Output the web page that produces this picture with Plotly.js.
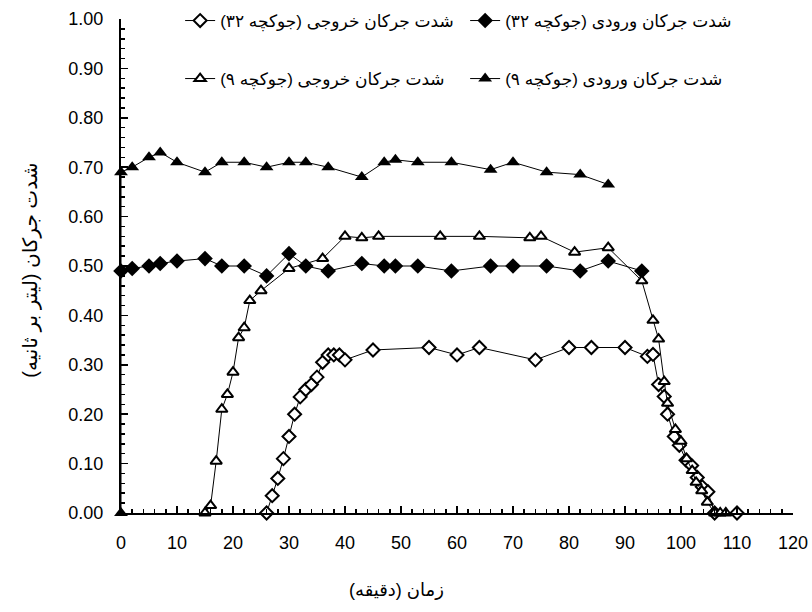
<!DOCTYPE html>
<html><head><meta charset="utf-8">
<script src="https://cdn.plot.ly/plotly-3.0.1.min.js"></script>
<style>html,body{margin:0;padding:0;background:#fff}</style>
</head><body><div id="chart" style="width:812px;height:612px"></div>
<script>
const RLM = '\u200F';
const nameIn32 = RLM + 'شدت جرکان ورودی (جوکچه ۳۲)' + RLM;
const nameOut32 = RLM + 'شدت جرکان خروجی (جوکچه ۳۲)' + RLM;
const nameIn9 = RLM + 'شدت جرکان ورودی (جوکچه ۹)' + RLM;
const nameOut9 = RLM + 'شدت جرکان خروجی (جوکچه ۹)' + RLM;
const xTitle = RLM + 'زمان (دقیقه)' + RLM;
const yTitle = RLM + 'شدت جرکان (لیتر بر ثانیه)' + RLM;

const in9X = [0, 0, 2, 5, 7, 10, 15, 18, 22, 26, 30, 33, 37, 43, 47, 49, 53, 59, 66, 70, 76, 82, 87];
const in9Y = [0, 0.69, 0.70, 0.72, 0.73, 0.71, 0.69, 0.71, 0.71, 0.70, 0.71, 0.71, 0.70, 0.68, 0.71, 0.715, 0.71, 0.71, 0.695, 0.71, 0.69, 0.685, 0.665];

const in32X = [0, 2, 5, 7, 10, 15, 18, 22, 26, 30, 33, 37, 43, 47, 49, 53, 59, 66, 70, 76, 82, 87, 93];
const in32Y = [0.49, 0.495, 0.50, 0.505, 0.51, 0.515, 0.50, 0.50, 0.48, 0.525, 0.50, 0.49, 0.505, 0.50, 0.50, 0.50, 0.49, 0.50, 0.50, 0.50, 0.49, 0.51, 0.49];

const out9X = [15, 16, 17, 18, 19, 20, 21, 22, 23, 25, 30, 36, 40, 43, 46, 57, 64, 73, 75, 81, 87, 93, 95, 96, 97, 97.6, 99, 100, 101, 102, 102.7, 103.7, 104.7, 106, 107, 108];
const out9Y = [0, 0.015, 0.105, 0.21, 0.24, 0.285, 0.355, 0.375, 0.43, 0.45, 0.495, 0.515, 0.56, 0.557, 0.56, 0.56, 0.56, 0.557, 0.56, 0.528, 0.537, 0.47, 0.39, 0.352, 0.266, 0.222, 0.169, 0.145, 0.11, 0.086, 0.062, 0.045, 0.022, 0, 0, 0];

const out32X = [26, 27, 28, 29, 30, 31, 32, 33, 34, 35, 36, 37, 38, 39, 40, 45, 55, 60, 64, 74, 80, 84, 90, 94, 95, 96, 97, 97.6, 98.8, 99.7, 100.9, 101.9, 102.9, 103.8, 104.8, 106, 110];
const out32Y = [0, 0.035, 0.07, 0.11, 0.155, 0.20, 0.235, 0.25, 0.26, 0.275, 0.305, 0.32, 0.32, 0.32, 0.31, 0.33, 0.335, 0.32, 0.335, 0.31, 0.335, 0.335, 0.335, 0.317, 0.321, 0.26, 0.236, 0.20, 0.155, 0.137, 0.107, 0.096, 0.072, 0.053, 0.043, 0, 0];

const lineStyle = {color: '#000', width: 1};
function mk(x, y, name, symbol, filled, size, legend) {
  return {
    x: x, y: y, name: name, type: 'scatter', mode: 'lines+markers',
    line: lineStyle, cliponaxis: false, legend: legend,
    marker: {symbol: symbol, size: size, color: filled ? '#000' : '#fff',
             line: {color: '#000', width: filled ? 0 : 2}}
  };
}

const data = [
  mk(out32X, out32Y, nameOut32, 'diamond', false, 10, 'legend'),
  mk(in32X, in32Y, nameIn32, 'diamond', true, 12, 'legend'),
  mk(out9X, out9Y, nameOut9, 'triangle-up', false, 10, 'legend2'),
  mk(in9X, in9Y, nameIn9, 'triangle-up', true, 12, 'legend2')
];

const tickFont = {family: 'Arial, Liberation Sans, sans-serif', size: 18, color: '#000'};
const axisCommon = {
  showline: true, linecolor: '#000', linewidth: 2,
  showgrid: false, zeroline: false,
  ticks: 'inside', ticklen: 7, tickwidth: 1.5, tickcolor: '#000',
  tickfont: tickFont,
  minor: {ticks: 'inside', ticklen: 4, tickwidth: 1.5, tickcolor: '#000', showgrid: false}
};

const legendCommon = {
  orientation: 'h', xanchor: 'left', yanchor: 'middle', xref: 'paper', yref: 'container',
  font: {family: 'Arial, DejaVu Sans, sans-serif', size: 17, color: '#000'},
  bgcolor: 'rgba(0,0,0,0)', borderwidth: 0,
  entrywidthmode: 'pixels', entrywidth: 240, itemclick: false
};

const layout = {
  width: 812, height: 612,
  margin: {l: 121, r: 19, t: 19, b: 99, autoexpand: false},
  paper_bgcolor: '#fff', plot_bgcolor: '#fff',
  showlegend: true,
  xaxis: Object.assign({}, axisCommon, {range: [0, 120], tick0: 0, dtick: 10, ticklabelstandoff: 12,
    minor: Object.assign({}, axisCommon.minor, {dtick: 2})}),
  yaxis: Object.assign({}, axisCommon, {range: [0, 1], tick0: 0, dtick: 0.1, tickformat: '.2f', ticklabelstandoff: 12,
    minor: Object.assign({}, axisCommon.minor, {dtick: 0.02})}),
  legend: Object.assign({}, legendCommon, {x: 0.088, y: 0.9657}),
  legend2: Object.assign({}, legendCommon, {x: 0.088, y: 0.8709}),
  annotations: [
    {text: xTitle, xref: 'paper', yref: 'paper', x: 0.41, y: -0.156, xanchor: 'center', yanchor: 'middle',
     showarrow: false, font: {family: 'Arial, DejaVu Sans, sans-serif', size: 18, color: '#000'}},
    {text: yTitle, xref: 'paper', yref: 'paper', x: -0.135, y: 0.491, xanchor: 'center', yanchor: 'middle',
     textangle: -90, showarrow: false, font: {family: 'Arial, DejaVu Sans, sans-serif', size: 20, color: '#000'}}
  ]
};

Plotly.newPlot('chart', data, layout, {staticPlot: true, displayModeBar: false});
</script>
</body></html>
